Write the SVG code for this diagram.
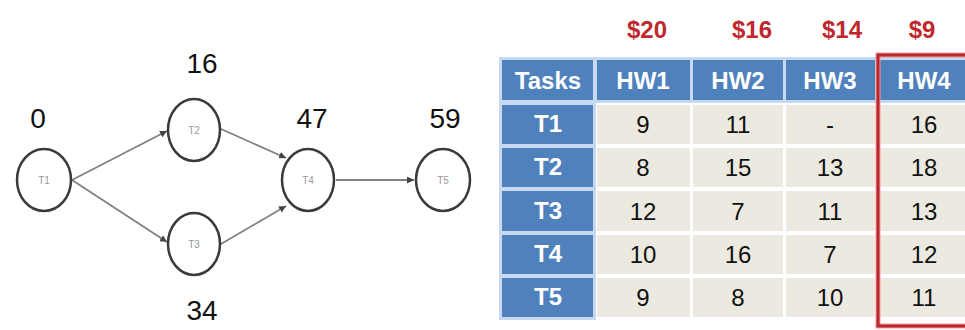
<svg xmlns="http://www.w3.org/2000/svg" width="965" height="330" viewBox="0 0 965 330">
<defs>
<style>
.node ellipse{fill:#fff;stroke:#3a3a3a;stroke-width:2.5}
.node .in{font-family:"Liberation Sans",Arial,sans-serif;font-size:10px;fill:#999;text-anchor:middle}
.val{font-family:"Liberation Sans",Arial,sans-serif;font-size:28px;fill:#111;text-anchor:middle}
.edge{stroke:#808080;stroke-width:1.8;fill:none;marker-end:url(#ah)}
.hd{fill:#4f81bd}
.bd{fill:#eceae0}
.ht{font-family:"Liberation Sans",Arial,sans-serif;font-size:24px;font-weight:bold;fill:#fff;text-anchor:middle}
.bt{font-family:"Liberation Sans",Arial,sans-serif;font-size:24px;fill:#111;text-anchor:middle}
.cost{font-family:"Liberation Sans",Arial,sans-serif;font-size:24px;font-weight:bold;fill:#c0282d;text-anchor:middle}
</style>
<marker id="ah" viewBox="0 0 10 10" refX="10" refY="5" markerWidth="7" markerHeight="7" markerUnits="userSpaceOnUse" orient="auto">
<path d="M0,0 L10,5 L0,10 z" fill="#444"/>
</marker>
</defs>
<rect width="965" height="330" fill="#fff"/>
<g id="connectors">
<line class="edge" x1="72" y1="180" x2="167" y2="131"/>
<line class="edge" x1="72" y1="180" x2="167" y2="242"/>
<line class="edge" x1="221" y1="129" x2="286" y2="158"/>
<line class="edge" x1="221" y1="244" x2="286" y2="206"/>
<line class="edge" x1="336" y1="180" x2="414" y2="180"/>
</g>
<g id="n1" class="node"><ellipse cx="44" cy="180" rx="27" ry="31"/><text class="in" x="44" y="184">T1</text><text class="val" x="38" y="128">0</text></g>
<g id="n2" class="node"><ellipse cx="194" cy="130" rx="26" ry="31"/><text class="in" x="194" y="134">T2</text><text class="val" x="202" y="73">16</text></g>
<g id="n3" class="node"><ellipse cx="194" cy="244" rx="26" ry="31"/><text class="in" x="194" y="248">T3</text><text class="val" x="202" y="320">34</text></g>
<g id="n4" class="node"><ellipse cx="308" cy="180" rx="26" ry="31"/><text class="in" x="308" y="184">T4</text><text class="val" x="312" y="128">47</text></g>
<g id="n5" class="node"><ellipse cx="443" cy="180" rx="27" ry="31"/><text class="in" x="443" y="184">T5</text><text class="val" x="445" y="128">59</text></g>
<g id="table">
<rect x="499" y="57" width="466" height="46" fill="#c6d9f0"/>
<rect x="499" y="101" width="97" height="219" fill="#c6d9f0"/>
<rect class="hd" x="502" y="60" width="91" height="40"/>
<rect class="hd" x="597" y="60" width="93" height="40"/>
<rect class="hd" x="693" y="60" width="90" height="40"/>
<rect class="hd" x="786" y="60" width="89" height="40"/>
<rect class="hd" x="879" y="60" width="86" height="40"/>
<text class="ht" x="548" y="89">Tasks</text>
<text class="ht" x="643" y="89">HW1</text>
<text class="ht" x="738" y="89">HW2</text>
<text class="ht" x="830" y="89">HW3</text>
<text class="ht" x="924" y="89">HW4</text>
<g id="r1">
<rect class="hd" x="502" y="105" width="91" height="39"/>
<rect class="bd" x="597" y="105" width="93" height="39"/><rect class="bd" x="693" y="105" width="90" height="39"/><rect class="bd" x="786" y="105" width="89" height="39"/><rect class="bd" x="879" y="105" width="86" height="39"/>
<text class="ht" x="548" y="132">T1</text><text class="bt" x="643" y="133">9</text><text class="bt" x="738" y="133">11</text><text class="bt" x="830" y="133">-</text><text class="bt" x="924" y="133">16</text>
</g>
<g id="r2">
<rect class="hd" x="502" y="148" width="91" height="39"/>
<rect class="bd" x="597" y="148" width="93" height="39"/><rect class="bd" x="693" y="148" width="90" height="39"/><rect class="bd" x="786" y="148" width="89" height="39"/><rect class="bd" x="879" y="148" width="86" height="39"/>
<text class="ht" x="548" y="175">T2</text><text class="bt" x="643" y="176">8</text><text class="bt" x="738" y="176">15</text><text class="bt" x="830" y="176">13</text><text class="bt" x="924" y="176">18</text>
</g>
<g id="r3">
<rect class="hd" x="502" y="191" width="91" height="40"/>
<rect class="bd" x="597" y="191" width="93" height="40"/><rect class="bd" x="693" y="191" width="90" height="40"/><rect class="bd" x="786" y="191" width="89" height="40"/><rect class="bd" x="879" y="191" width="86" height="40"/>
<text class="ht" x="548" y="219">T3</text><text class="bt" x="643" y="220">12</text><text class="bt" x="738" y="220">7</text><text class="bt" x="830" y="220">11</text><text class="bt" x="924" y="220">13</text>
</g>
<g id="r4">
<rect class="hd" x="502" y="235" width="91" height="39"/>
<rect class="bd" x="597" y="235" width="93" height="39"/><rect class="bd" x="693" y="235" width="90" height="39"/><rect class="bd" x="786" y="235" width="89" height="39"/><rect class="bd" x="879" y="235" width="86" height="39"/>
<text class="ht" x="548" y="262">T4</text><text class="bt" x="643" y="263">10</text><text class="bt" x="738" y="263">16</text><text class="bt" x="830" y="263">7</text><text class="bt" x="924" y="263">12</text>
</g>
<g id="r5">
<rect class="hd" x="502" y="278" width="91" height="39"/>
<rect class="bd" x="597" y="278" width="93" height="39"/><rect class="bd" x="693" y="278" width="90" height="39"/><rect class="bd" x="786" y="278" width="89" height="39"/><rect class="bd" x="879" y="278" width="86" height="39"/>
<text class="ht" x="548" y="305">T5</text><text class="bt" x="643" y="306">9</text><text class="bt" x="738" y="306">8</text><text class="bt" x="830" y="306">10</text><text class="bt" x="924" y="306">11</text>
</g>
</g>
<g id="costs">
<text class="cost" x="647" y="38">$20</text>
<text class="cost" x="752" y="38">$16</text>
<text class="cost" x="842" y="38">$14</text>
<text class="cost" x="922" y="38">$9</text>
</g>
<g id="highlight">
<rect x="878" y="55" width="100" height="271" fill="none" stroke="#f59a9a" stroke-width="5"/>
<rect x="878" y="55" width="100" height="271" fill="none" stroke="#b8282e" stroke-width="3"/>
</g>
</svg>
